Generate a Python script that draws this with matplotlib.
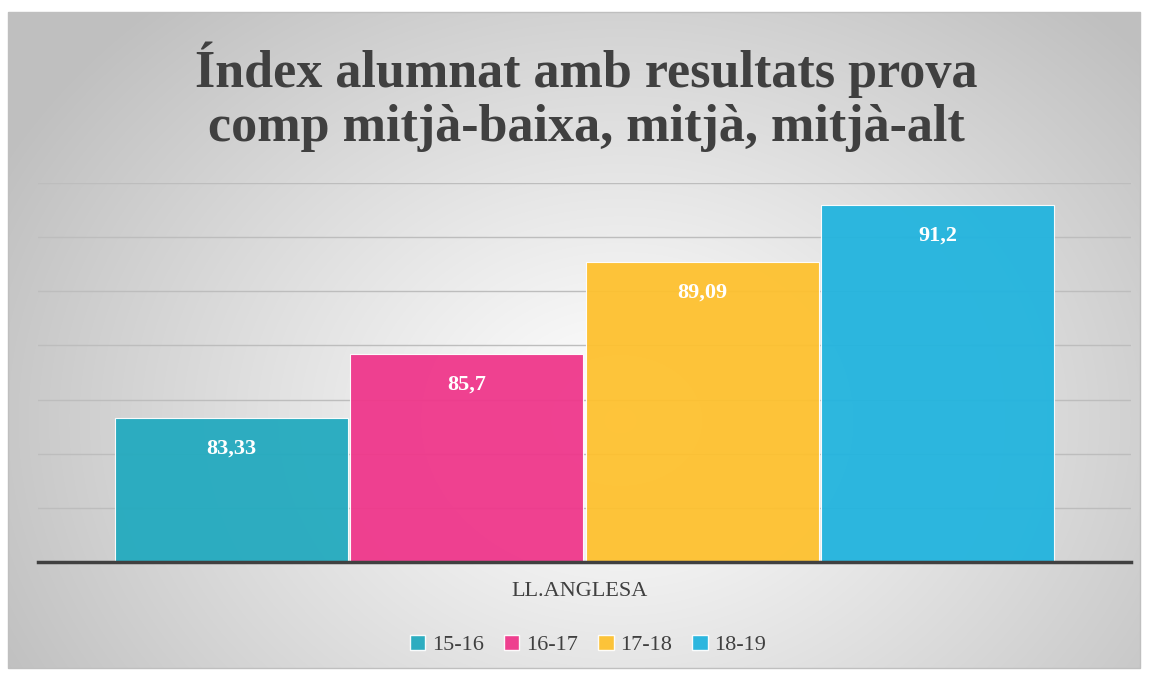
import numpy as np
import matplotlib.pyplot as plt
from matplotlib.patches import Rectangle

title = "Índex alumnat amb resultats prova\ncomp mitjà-baixa, mitjà, mitjà-alt"
category = "LL.ANGLESA"
years = ["15-16", "16-17", "17-18", "18-19"]
values = [83.33, 85.7, 89.09, 91.2]
labels = ["83,33", "85,7", "89,09", "91,2"]
colors = ["#23aabf", "#ef378b", "#fec12f", "#22b4de"]

plt.rcParams['font.family'] = ['Liberation Serif', 'DejaVu Serif']

fig = plt.figure(figsize=(11.49, 6.77), dpi=100)

# background: radial grey gradient inside a thin frame
bg = fig.add_axes([0, 0, 1, 1], zorder=-10)
W, H = 1149, 677
yy, xx = np.mgrid[0:H, 0:W]
r = np.sqrt(((xx - 620) / 1.0) ** 2 + ((yy - 420) / 0.8) ** 2)
t = np.clip(r / 700, 0, 1) ** 1.1
shade = 1.0 - 0.25 * t
img = np.dstack([shade, shade, shade])
mask = (xx < 8) | (xx > 1140) | (yy < 12) | (yy > 668)
img[mask] = 1.0
bg.imshow(img, extent=[0, W, H, 0], aspect='auto')
bg.add_patch(Rectangle((8, 12), 1132, 656, fill=False, edgecolor='#bfbfbf', lw=1))
bg.set_xlim(0, W)
bg.set_ylim(H, 0)
bg.axis('off')

ax = fig.add_axes([38 / W, 1 - 562 / H, (1131 - 38) / W, (562 - 183) / H])
ax.set_facecolor('none')
x = np.arange(len(values))
bars = ax.bar(x, values, width=0.99, color=colors, alpha=0.95,
              edgecolor='white', linewidth=0.8, zorder=3)
for b, lab in zip(bars, labels):
    ax.annotate(lab, (b.get_x() + b.get_width() / 2, b.get_height()),
                xytext=(0, -22), textcoords='offset points', ha='center', va='center',
                color='white', fontsize=16, fontweight='bold', zorder=4)

ax.set_ylim(78, 92)
ax.set_xlim(-0.823, 3.823)
ax.set_yticks(np.arange(78, 93, 2))
ax.yaxis.grid(True, color='#bdbdbd', lw=1, zorder=0)
ax.tick_params(left=False, bottom=False, labelleft=False, labelbottom=False)
for s in ['top', 'right', 'left']:
    ax.spines[s].set_visible(False)
ax.spines['bottom'].set_color('#404040')
ax.spines['bottom'].set_linewidth(2.5)
ax.spines['bottom'].set_zorder(5)

fig.text(586 / W, 1 - 97 / H, title, ha='center', va='center', fontsize=37.5,
         fontweight='bold', color='#404040', linespacing=1.15)
fig.text(580 / W, 1 - 591 / H, category, ha='center', va='center', fontsize=16,
         color='#404040')

handles = [Rectangle((0, 0), 1, 1, facecolor=c, edgecolor='#ffffff', alpha=0.95) for c in colors]
fig.legend(handles, years, loc='center', bbox_to_anchor=(588 / W, 1 - 645 / H), ncol=4,
           frameon=False, fontsize=16, handlelength=0.7, handleheight=0.7,
           handletextpad=0.3, columnspacing=0.9, labelcolor='#404040')

fig.savefig('out.png', dpi=100)
